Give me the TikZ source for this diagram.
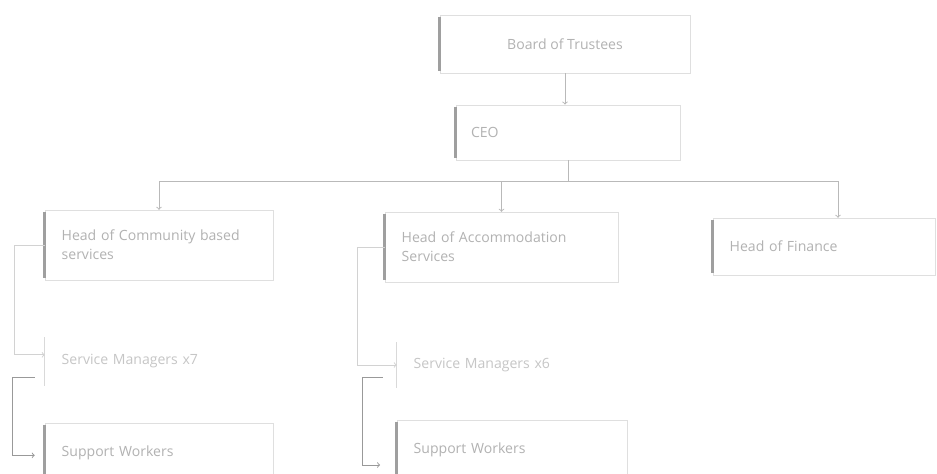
\documentclass[tikz,border=0pt]{standalone}
\usepackage{fontspec}
\setmainfont{Open Sans}
\usepackage{xcolor}
\usepackage{tikz}

\tikzset{
	box/.style={draw=gray!25, text=gray!60, align=left, inner xsep=0.5cm,
		font=\fontsize{12}{16}\selectfont},
	bar/.style={line width=2.2pt, gray!75, shorten <=2pt, shorten >=2pt},
	conn/.style={->, gray!55, thick},
	conndark/.style={->, gray!80, thick},
}

\begin{document}
\begin{tikzpicture}
	\useasboundingbox[fill=white] (0,0) rectangle (28.11,14.19);
	
	% top of the chart
	\node[box, align=center, minimum width=7.5cm, minimum height=1.74cm] (board) at (16.95,12.87) {Board of Trustees};
	\node[box, inner xsep=0.45cm, text width=5.82cm, minimum height=1.65cm] (ceo) at (17.04,10.22) {CEO};
	
	% heads
	\node[box, text width=5.84cm, minimum height=2.1cm] (hcs) at (4.77,6.84) {Head of Community based\\services};
	\node[box, text width=5.99cm, minimum height=2.1cm] (hac) at (15.045,6.78) {Head of Accommodation\\Services};
	\node[box, text width=5.66cm, minimum height=1.71cm] (hfin) at (24.72,6.795) {Head of Finance};
	
	% managers and workers
	\node[box, draw=none, text=gray!45, text width=5.84cm, minimum height=1.59cm] (sm7) at (4.77,3.345) {Service Managers x7};
	\node[box, text width=5.84cm, minimum height=1.8cm] (sw7) at (4.77,0.6) {Support Workers};
	\node[box, draw=none, text=gray!45, text width=5.9cm, minimum height=1.5cm] (sm6) at (15.36,3.24) {Service Managers x6};
	\node[box, text width=5.9cm, minimum height=1.8cm] (sw6) at (15.36,0.69) {Support Workers};
	
	\foreach \n in {board,ceo,hcs,hac,hfin,sw7,sw6}
		\draw[bar] (\n.north west) -- (\n.south west);
	\foreach \n in {sm7,sm6}
		\draw[bar, gray!30, line width=1.2pt] (\n.north west) -- (\n.south west);
	
	% connectors
	\draw[conn] (board.south) -- (board.south |- ceo.north);
	\draw[conn] (ceo.south) -- ++(0,-0.63) -| (hcs.north);
	\draw[conn] (ceo.south) -- ++(0,-0.63) -| (hac.north);
	\draw[conn] (ceo.south) -- ++(0,-0.63) -| ([xshift=0.42cm]hfin.north);
	
	\draw[conn, gray!35] (hcs.west) -- ++(-0.9,0) |- ([yshift=0.2cm]sm7.west);
	\draw[conn, gray!35] (hac.west) -- ++(-0.81,0) |- (sm6.west);
	
	\draw[conndark, shorten >=0.3cm] ([xshift=-0.3cm,yshift=-0.47cm]sm7.west) -- ++(-0.66,0) |- ([yshift=-0.07cm]sw7.west);
	\draw[conndark, shorten >=0.5cm] ([xshift=-0.42cm,yshift=-0.36cm]sm6.west) -- ++(-0.6,0) |- ([yshift=-0.45cm]sw6.west);
\end{tikzpicture}
\end{document}
